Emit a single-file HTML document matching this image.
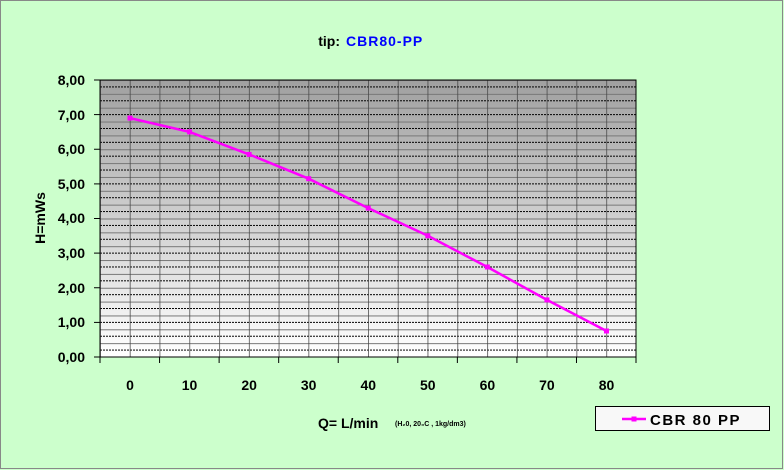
<!DOCTYPE html>
<html><head><style>
body{margin:0;background:#ccffcc;}
svg{display:block;font-family:"Liberation Sans",Arial,sans-serif;font-weight:bold;}
</style></head><body>
<svg width="784" height="470" xmlns="http://www.w3.org/2000/svg">
<defs>
<linearGradient id="g" x1="0" y1="0" x2="0" y2="1">
<stop offset="0" stop-color="#a0a0a0"/><stop offset="1" stop-color="#ffffff"/></linearGradient>
<pattern id="hp" patternUnits="userSpaceOnUse" x="100" y="80" width="536" height="13.85">
<line x1="0" x2="536" y1="0" y2="0" stroke="#777" stroke-width="2"/>
<line x1="0" x2="536" y1="6.925" y2="6.925" stroke="#000" stroke-width="1" stroke-dasharray="2,1"/>
</pattern>
<pattern id="vp" patternUnits="userSpaceOnUse" x="100" y="80" width="29.78" height="277">
<line x1="0" x2="0" y1="0" y2="277" stroke="#444" stroke-width="1.5"/>
</pattern>
</defs>
<rect x="0.5" y="0.5" width="782" height="468" fill="#ccffcc" stroke="#888" stroke-width="1"/>
<text x="340" y="46" font-size="14" text-anchor="end" fill="#000">tip:</text>
<text x="346" y="46" font-size="14" fill="#0000ff" letter-spacing="1">CBR80-PP</text>
<rect x="100" y="80" width="536" height="277" fill="url(#g)"/>
<rect x="100" y="80" width="536" height="277" fill="url(#hp)"/>
<rect x="100" y="80" width="536" height="277" fill="url(#vp)"/>
<rect x="100" y="80" width="536" height="277" fill="none" stroke="#000" stroke-width="1"/>
<g stroke="#000">
<line x1="100" x2="100" y1="357" y2="363"/><line x1="159.56" x2="159.56" y1="357" y2="363"/><line x1="219.12" x2="219.12" y1="357" y2="363"/><line x1="278.68" x2="278.68" y1="357" y2="363"/><line x1="338.24" x2="338.24" y1="357" y2="363"/><line x1="397.8" x2="397.8" y1="357" y2="363"/><line x1="457.36" x2="457.36" y1="357" y2="363"/><line x1="516.92" x2="516.92" y1="357" y2="363"/><line x1="576.48" x2="576.48" y1="357" y2="363"/><line x1="636" x2="636" y1="357" y2="363"/>
<line x1="94" x2="100" y1="357" y2="357"/><line x1="94" x2="100" y1="322.4" y2="322.4"/><line x1="94" x2="100" y1="287.75" y2="287.75"/><line x1="94" x2="100" y1="253.1" y2="253.1"/><line x1="94" x2="100" y1="218.5" y2="218.5"/><line x1="94" x2="100" y1="183.9" y2="183.9"/><line x1="94" x2="100" y1="149.25" y2="149.25"/><line x1="94" x2="100" y1="114.6" y2="114.6"/><line x1="94" x2="100" y1="80" y2="80"/>
</g>
<g font-size="14" text-anchor="end">
<text x="85" y="362">0,00</text><text x="85" y="327">1,00</text><text x="85" y="293">2,00</text><text x="85" y="258">3,00</text><text x="85" y="223">4,00</text><text x="85" y="189">5,00</text><text x="85" y="154">6,00</text><text x="85" y="120">7,00</text><text x="85" y="85">8,00</text>
</g>
<g font-size="14" text-anchor="middle">
<text x="130" y="390">0</text><text x="189.56" y="390">10</text><text x="249.12" y="390">20</text><text x="308.68" y="390">30</text><text x="368.24" y="390">40</text><text x="427.8" y="390">50</text><text x="487.36" y="390">60</text><text x="546.92" y="390">70</text><text x="606.48" y="390">80</text>
</g>
<polyline points="130,118.1 189.56,131.9 249.12,154.4 308.68,178.7 368.24,208.1 427.8,235.8 487.36,267 546.92,299.9 606.48,331" fill="none" stroke="#ff00ff" stroke-width="2.5"/>
<g fill="#ff00ff">
<rect x="127.5" y="115.6" width="5" height="5"/><rect x="187.06" y="129.4" width="5" height="5"/><rect x="246.62" y="151.9" width="5" height="5"/><rect x="306.18" y="176.2" width="5" height="5"/><rect x="365.74" y="205.6" width="5" height="5"/><rect x="425.3" y="233.3" width="5" height="5"/><rect x="484.86" y="264.5" width="5" height="5"/><rect x="544.42" y="297.4" width="5" height="5"/><rect x="603.98" y="328.5" width="5" height="5"/>
</g>
<text x="45" y="218" font-size="14" text-anchor="middle" transform="rotate(-90 45 218)">H=mWs</text>
<text x="318" y="428" font-size="14">Q= L/min</text>
<text x="395" y="426" font-size="7">(H₂0, 20₀C , 1kg/dm3)</text>
<rect x="595.5" y="406.5" width="174" height="24" fill="#f8f8f8" stroke="#000"/>
<line x1="622" x2="646" y1="419" y2="419" stroke="#ff00ff" stroke-width="2.5"/>
<rect x="631.5" y="416.5" width="5" height="5" fill="#ff00ff"/>
<text x="650" y="425" font-size="15" letter-spacing="1.5">CBR 80 PP</text>
</svg>
</body></html>
